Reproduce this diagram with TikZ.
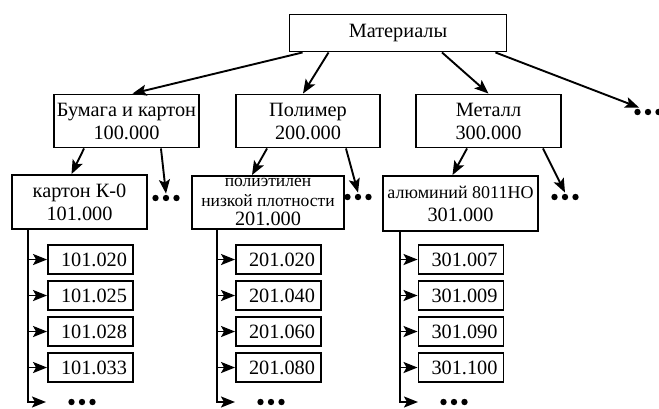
\documentclass[tikz,border=0pt]{standalone}
\usepackage{fontspec}
\setmainfont{Liberation Serif}
\usetikzlibrary{arrows.meta}

\begin{document}
\begin{tikzpicture}[
        x=1pt, y=-1pt,
        box/.style={
            draw, line width=1.9pt, rectangle,
            inner sep=0pt, align=center,
            font=\fontsize{20.3}{23}\selectfont
        },
        leaf/.style={box, minimum width=85pt, minimum height=29pt, text width=73pt, align=right},
        more/.style={
            inner sep=0pt, minimum width=28pt, minimum height=7pt,
            path picture={
                \foreach \k in {-1,0,1}
                    \fill ([xshift=\k*10.5pt]path picture bounding box.center) circle (3.2pt);
            }
        },
        >={Stealth[length=14pt,width=11pt,inset=3pt]}, line width=1.9pt
      ]
  \useasboundingbox (0,0) rectangle (659,408);

  % top level
  \node (mat) [box,minimum width=217pt,minimum height=37pt] at (398,33) {Материалы};

  \node (paper) [box,minimum width=145pt,minimum height=53pt] at (126.5,121) {Бумага и картон\\100.000};
  \node (poly)  [box,minimum width=144pt,minimum height=53pt] at (308,121) {Полимер\\200.000};
  \node (metal) [box,minimum width=145pt,minimum height=53pt] at (488.5,121) {Металл\\300.000};
  \node (more0) [more] at (648,112) {};

  \draw[->] (mat.south west)++(14,0) -- ([xshift=6pt]paper.north);
  \draw[->] (mat.south west)++(40,0) -- ([xshift=-5pt]poly.north);
  \draw[->] (mat.south)++(44,0) -- (metal.north);
  \draw[->] (mat.south east)++(-12,0) -- ([xshift=6pt]more0.north west);

  % second level
  \node (k0) [box,minimum width=135pt,minimum height=54pt] at (79.5,202) {картон К-0\\101.000};
  \node (pe) [box,minimum width=152pt,minimum height=53pt,font=\fontsize{17.5}{19.5}\selectfont] at (268,202.5) {полиэтилен\\низкой плотности\\{\fontsize{20.3}{20}\selectfont 201.000}};
  \node (al) [box,minimum width=155pt,minimum height=55pt] at (460.5,203.5) {{\fontsize{18}{18}\selectfont алюминий 8011НО}\\301.000};
  \node (more1) [more] at (166,198) {};
  \node (more2) [more] at (358,197) {};
  \node (more3) [more] at (565,197) {};

  \draw[->] (paper.south west)++(31,0) -- ([xshift=-8pt]k0.north);
  \draw[->] (paper.south east)++(-39,0) -- (more1.north);
  \draw[->] (poly.south west)++(32,0) -- ([xshift=-16pt]pe.north);
  \draw[->] (poly.south east)++(-35,0) -- (more2.north);
  \draw[->] (metal.south west)++(52,0) -- ([xshift=-8pt]al.north);
  \draw[->] (metal.south east)++(-19,0) -- (more3.north);

  % codes
  \foreach \col/\x/\tx/\a/\b/\c/\d in {k0/90.5/28/101.020/101.025/101.028/101.033,
                                     pe/278.5/217/201.020/201.040/201.060/201.080,
                                     al/461/400/301.007/301.009/301.090/301.100} {
    \coordinate (\col top) at (\col.south -| {(\tx,0)});
    \foreach \code [count=\i] in {\a,\b,\c,\d} {
      \node (\col\i) [leaf] at (\x,223.5+36*\i) {\code};
      \draw[->] (\col top |- \col\i.west) -- (\col\i.west);
    }
    \coordinate (\col end) at (\tx+18,402);
    \node (\col more) [more] at (\tx+54,402) {};
    \draw[->] (\col top) |- (\col end);
  }
\end{tikzpicture}
\end{document}
